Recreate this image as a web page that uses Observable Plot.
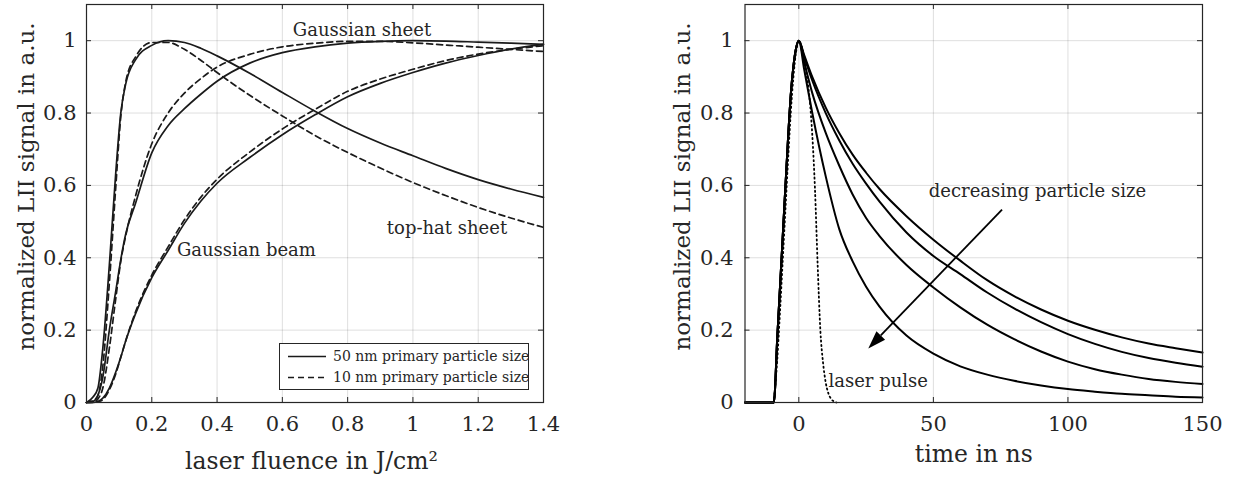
<!DOCTYPE html>
<html><head><meta charset="utf-8">
<script src="https://cdn.jsdelivr.net/npm/d3@7"></script>
<script src="https://cdn.jsdelivr.net/npm/@observablehq/plot@0.6"></script>
<style>
body{margin:0;background:#fff;}
#wrap{position:relative;width:1236px;height:480px;display:flex;}
#legend{position:absolute;left:279px;top:343px;width:250px;height:47px;border:1.2px solid #262626;background:#fff;box-sizing:border-box;font-family:"DejaVu Serif";font-size:14px;color:#262626;}
</style></head><body><div id="wrap"></div>
<script>
// ---------- left panel data ----------
const fluence = [0, 0.02, 0.035, 0.05, 0.07, 0.09, 0.105, 0.12, 0.15, 0.2, 0.25, 0.3, 0.35, 0.4, 0.5, 0.6, 0.7, 0.8, 0.9, 1.0, 1.1, 1.2, 1.3, 1.4];
const topHat50 = [0, 0.015, 0.04, 0.15, 0.38, 0.64, 0.8, 0.88, 0.947, 0.987, 1.0, 0.995, 0.979, 0.958, 0.91, 0.857, 0.805, 0.757, 0.717, 0.682, 0.647, 0.616, 0.59, 0.567];
const topHat10 = [0, 0.005, 0.02, 0.1, 0.33, 0.6, 0.79, 0.885, 0.955, 0.995, 0.995, 0.976, 0.946, 0.912, 0.849, 0.792, 0.738, 0.691, 0.648, 0.608, 0.572, 0.539, 0.51, 0.484];
const gSheet50 = [0, 0.003, 0.02, 0.07, 0.2, 0.31, 0.395, 0.465, 0.55, 0.69, 0.765, 0.812, 0.852, 0.888, 0.938, 0.967, 0.983, 0.993, 0.998, 1.0, 0.999, 0.996, 0.993, 0.99];
const gSheet10 = [0, 0.001, 0.01, 0.04, 0.15, 0.29, 0.39, 0.46, 0.57, 0.715, 0.8, 0.855, 0.895, 0.927, 0.962, 0.983, 0.993, 0.998, 0.998, 0.994, 0.988, 0.982, 0.976, 0.97];
const gBeam50 = [0, 0, 0.003, 0.012, 0.04, 0.085, 0.125, 0.17, 0.245, 0.345, 0.42, 0.495, 0.556, 0.606, 0.677, 0.74, 0.795, 0.845, 0.882, 0.912, 0.938, 0.959, 0.977, 0.99];
const gBeam10 = [0, 0, 0.002, 0.008, 0.035, 0.08, 0.125, 0.17, 0.25, 0.352, 0.43, 0.505, 0.567, 0.617, 0.692, 0.756, 0.81, 0.86, 0.894, 0.921, 0.945, 0.963, 0.976, 0.986];
const leftXTicks = [0, 0.2, 0.4, 0.6, 0.8, 1, 1.2, 1.4];
const yTicks = [0, 0.2, 0.4, 0.6, 0.8, 1];
const leftNotes = ["Gaussian sheet", "Gaussian beam", "top-hat sheet"];
const leftNoteX = [0.632, 0.277, 0.92];
const leftNoteY = [1.03, 0.422, 0.4825];
const legendLabels = ["50 nm primary particle size", "10 nm primary particle size"];

// ---------- right panel data ----------
const time = [-20, -9.3, -8, -6, -4, -3, -2, -1, 0, 2, 5, 10, 15, 20, 25, 30, 40, 50, 60, 70, 80, 90, 100, 110, 120, 130, 140, 150];
const rise = [0, 0, 0.18, 0.455, 0.73, 0.85, 0.93, 0.98, 1.0];
const decay1 = [0.96, 0.9, 0.815, 0.745, 0.685, 0.635, 0.59, 0.515, 0.45, 0.392, 0.338, 0.294, 0.257, 0.226, 0.201, 0.18, 0.163, 0.15, 0.138];
const decay2 = [0.955, 0.89, 0.8, 0.725, 0.66, 0.605, 0.555, 0.47, 0.405, 0.355, 0.304, 0.26, 0.222, 0.189, 0.162, 0.14, 0.123, 0.11, 0.099];
const decay3 = [0.94, 0.855, 0.745, 0.655, 0.575, 0.51, 0.46, 0.38, 0.318, 0.263, 0.215, 0.175, 0.141, 0.113, 0.092, 0.077, 0.065, 0.057, 0.051];
const decay4 = [0.92, 0.8, 0.625, 0.48, 0.39, 0.32, 0.265, 0.185, 0.135, 0.1, 0.077, 0.06, 0.047, 0.037, 0.03, 0.024, 0.02, 0.016, 0.014];
const pulseTime = [-9.3, -8, -7, -6, -5, -4, -3, -2, -1, 0, 1, 2, 3, 4, 5, 6, 7, 8, 9, 10, 11, 12, 13, 14];
const pulse = [0, 0.12, 0.25, 0.39, 0.53, 0.67, 0.8, 0.9, 0.97, 1.0, 0.985, 0.95, 0.9, 0.84, 0.74, 0.59, 0.38, 0.2, 0.11, 0.055, 0.025, 0.01, 0.003, 0];
const rightXTicks = [0, 50, 100, 150];
const rightNotes = ["decreasing particle size", "laser pulse"];
const rightNoteX = [48.3, 11.0];
const rightNoteY = [0.583, 0.0575];
const arrowStart = [75.7, 0.532];
const arrowEnd = [26.0, 0.148];

// ---------- build tables ----------
const leftSeries = [
  {name: "top-hat sheet", size: "50 nm", v: topHat50},
  {name: "top-hat sheet", size: "10 nm", v: topHat10},
  {name: "Gaussian sheet", size: "50 nm", v: gSheet50},
  {name: "Gaussian sheet", size: "10 nm", v: gSheet10},
  {name: "Gaussian beam", size: "50 nm", v: gBeam50},
  {name: "Gaussian beam", size: "10 nm", v: gBeam10}
];
const leftRows = leftSeries.flatMap((s, i) => fluence.map((f, j) => ({id: i, size: s.size, x: f, y: s.v[j]})));
const decays = [decay1, decay2, decay3, decay4];
const rightRows = decays.flatMap((d, i) => time.map((t, j) => ({id: i, x: t, y: j < rise.length ? rise[j] : d[j - rise.length]})));
const pulseRows = pulseTime.map((t, j) => ({x: t, y: pulse[j]}));

const FONT = "DejaVu Serif", INK = "#262626";
const W = 618, H = 480, MT = 4, MB = 78;
const FH = H - MT - MB;
const fmt = d => String(d);

function frameParts(xTicks, ml, mr) {
  const FW = W - ml - mr;
  return [
    Plot.ruleX(xTicks, {x: d => d, stroke: "#000", strokeOpacity: 0.13}),
    Plot.ruleY(yTicks, {y: d => d, stroke: "#000", strokeOpacity: 0.13}),
    Plot.ruleX(xTicks, {x: d => d, insetTop: FH - 5, stroke: INK}),
    Plot.ruleX(xTicks, {x: d => d, insetBottom: FH - 5, stroke: INK}),
    Plot.ruleY(yTicks, {y: d => d, insetRight: FW - 5, stroke: INK}),
    Plot.ruleY(yTicks, {y: d => d, insetLeft: FW - 5, stroke: INK})
  ];
}
function axes(xTicks, ypad) {
  return [
    Plot.axisX(xTicks, {tickSize: 0, tickPadding: 14, fontSize: 21, label: null, fill: INK, tickFormat: fmt}),
    Plot.axisY(yTicks, {tickSize: 0, tickPadding: ypad, fontSize: 21, label: null, fill: INK, tickFormat: fmt})
  ];
}
function yTitle(dx) {
  return Plot.text(["normalized LII signal in a.u."], {frameAnchor: "left", textAnchor: "middle", lineAnchor: "middle", rotate: -90, dx, dy: -17, fontSize: 23, fill: INK});
}

const left = Plot.plot({
  width: W, height: H, marginLeft: 86, marginRight: 75, marginTop: MT, marginBottom: MB,
  x: {domain: [0, 1.4]}, y: {domain: [0, 1.1]},
  style: {fontFamily: FONT, color: INK, background: "#fff", overflow: "visible"},
  marks: [
    ...frameParts(leftXTicks, 86, 75),
    Plot.line(leftRows.filter(d => d.size === "50 nm"), {x: "x", y: "y", z: "id", stroke: "#1a1a1a", strokeWidth: 1.7, curve: "monotone-x"}),
    Plot.line(leftRows.filter(d => d.size === "10 nm"), {x: "x", y: "y", z: "id", stroke: "#1a1a1a", strokeWidth: 1.7, strokeDasharray: "6,4", curve: "monotone-x"}),
    Plot.text(leftNotes, {x: (d, i) => leftNoteX[i], y: (d, i) => leftNoteY[i], text: d => d, textAnchor: "start", lineAnchor: "middle", fontSize: 18, fill: INK}),
    Plot.frame({stroke: INK, strokeWidth: 1.2}),
    ...axes(leftXTicks, 10),
    Plot.text(["laser fluence in J/cm²"], {frameAnchor: "bottom", textAnchor: "middle", lineAnchor: "middle", dy: 59, dx: -3.5, fontSize: 23.5, fill: INK}),
    yTitle(-60)
  ]
});

const right = Plot.plot({
  width: W, height: H, marginLeft: 126.5, marginRight: 34, marginTop: MT, marginBottom: MB,
  x: {domain: [-20, 150]}, y: {domain: [0, 1.1]},
  style: {fontFamily: FONT, color: INK, background: "#fff", overflow: "visible"},
  marks: [
    ...frameParts(rightXTicks, 126.5, 34),
    Plot.line(pulseRows, {x: "x", y: "y", stroke: "#000", strokeWidth: 1.8, strokeDasharray: "1.2,3.2", curve: "monotone-x"}),
    Plot.line(rightRows, {x: "x", y: "y", z: "id", stroke: "#000", strokeWidth: 2, curve: "monotone-x"}),
    Plot.text(rightNotes, {x: (d, i) => rightNoteX[i], y: (d, i) => rightNoteY[i], text: d => d, textAnchor: "start", lineAnchor: "middle", fontSize: 18, fill: INK}),
    (index, scales) => {
      const x1 = scales.x(arrowStart[0]), y1 = scales.y(arrowStart[1]);
      const x2 = scales.x(arrowEnd[0]), y2 = scales.y(arrowEnd[1]);
      const a = Math.atan2(y2 - y1, x2 - x1);
      const L = 18, w = 6;
      const bx = x2 - L * Math.cos(a), by = y2 - L * Math.sin(a);
      const px = -Math.sin(a) * w, py = Math.cos(a) * w;
      const g = d3.create("svg:g");
      g.append("line").attr("x1", x1).attr("y1", y1).attr("x2", bx).attr("y2", by).attr("stroke", "#000").attr("stroke-width", 1.8);
      g.append("path").attr("d", `M${x2},${y2}L${bx + px},${by + py}L${bx - px},${by - py}Z`).attr("fill", "#000");
      return g.node();
    },
    Plot.frame({stroke: INK, strokeWidth: 1.2}),
    ...axes(rightXTicks, 11.5),
    Plot.text(["time in ns"], {frameAnchor: "bottom", textAnchor: "middle", lineAnchor: "middle", dy: 52, fontSize: 23.5, fill: INK}),
    yTitle(-62)
  ]
});

const wrap = document.getElementById("wrap");
wrap.append(left, right);

// legend
const lg = document.createElement("div");
lg.id = "legend";
const dashes = [null, "6,4"];
let svg = `<svg width="248" height="45" style="position:absolute;left:0;top:0">`;
legendLabels.forEach((t, i) => {
  const cy = 12.5 + i * 21;
  svg += `<line x1="8" x2="46" y1="${cy}" y2="${cy}" stroke="#1a1a1a" stroke-width="1.7" ${dashes[i] ? `stroke-dasharray="${dashes[i]}"` : ""}/>`;
  svg += `<text x="53" y="${cy}" dy="0.35em" font-family="DejaVu Serif" font-size="14" fill="${INK}">${t}</text>`;
});
svg += `</svg>`;
lg.innerHTML = svg;
wrap.appendChild(lg);
</script></body></html>
